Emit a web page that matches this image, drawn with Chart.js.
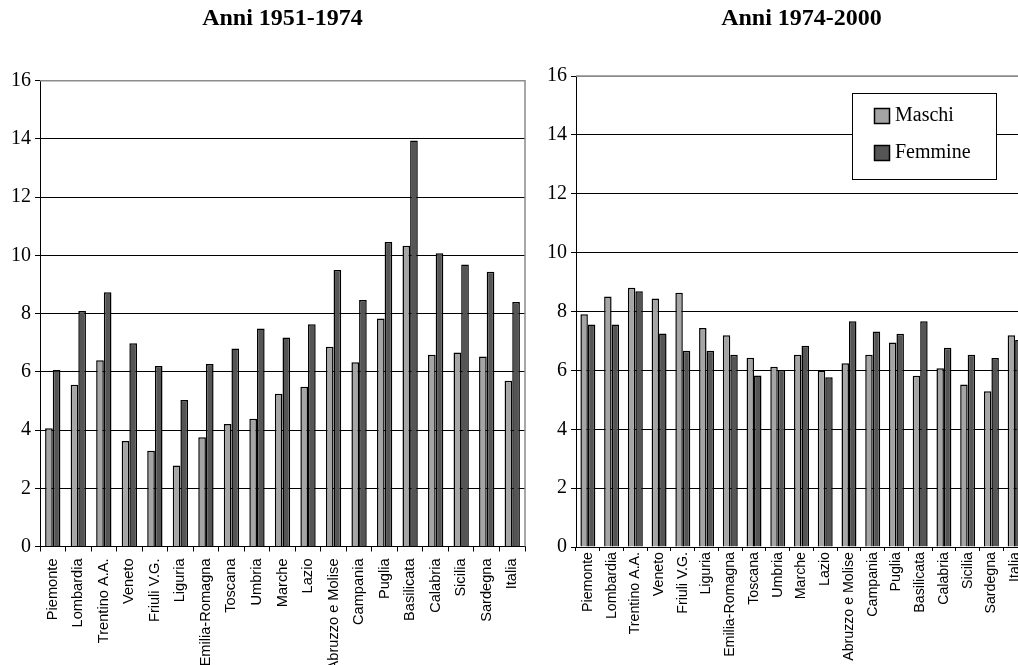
<!DOCTYPE html>
<html>
<head>
<meta charset="utf-8">
<script src="https://cdn.jsdelivr.net/npm/chart.js@4"></script>
<style>
  html, body { margin: 0; padding: 0; background: #fff; overflow: hidden; width: 1018px; height: 665px; }
  .wrap { position: absolute; top: 0; height: 665px; }
  #wrapLeft { left: 0; width: 530px; }
  #wrapRight { left: 530px; width: 500px; }
</style>
</head>
<body>
<div class="wrap" id="wrapLeft"><canvas id="chartLeft" width="530" height="665"></canvas></div>
<div class="wrap" id="wrapRight"><canvas id="chartRight" width="500" height="665"></canvas></div>
<script>
const regioni = ['Piemonte', 'Lombardia', 'Trentino A.A.', 'Veneto', 'Friuli V.G.', 'Liguria',
  'Emilia-Romagna', 'Toscana', 'Umbria', 'Marche', 'Lazio', 'Abruzzo e Molise', 'Campania',
  'Puglia', 'Basilicata', 'Calabria', 'Sicilia', 'Sardegna', 'Italia'];

// 1951-1974
const maschi5174  = [4.06, 5.56, 6.40, 3.62, 3.29, 2.78, 3.75, 4.21, 4.39, 5.25, 5.49, 6.86, 6.33, 7.83, 10.33, 6.59, 6.66, 6.53, 5.69];
const femmine5174 = [6.06, 8.09, 8.73, 6.98, 6.20, 5.03, 6.27, 6.80, 7.49, 7.18, 7.63, 9.50, 8.47, 10.46, 13.95, 10.07, 9.69, 9.44, 8.40];

// 1974-2000
const maschi7400  = [7.91, 8.51, 8.81, 8.44, 8.64, 7.44, 7.19, 6.43, 6.12, 6.53, 6.00, 6.24, 6.53, 6.95, 5.82, 6.07, 5.52, 5.29, 7.19];
const femmine7400 = [7.56, 7.56, 8.69, 7.25, 6.67, 6.67, 6.53, 5.83, 6.01, 6.84, 5.77, 7.67, 7.32, 7.24, 7.67, 6.77, 6.53, 6.42, 7.03];

const yMax = 16;
const yStep = 2;

const coloreMaschi = '#a5a5a5';
const coloreFemmine = '#555555';
const serif = "'Liberation Serif', 'Times New Roman', serif";
const sans = "'Liberation Sans', Arial, sans-serif";

// grey frame on the top and right side of the plot area
const frame = {
  id: 'frame',
  afterDatasetsDraw(chart) {
    const { ctx, chartArea: a } = chart;
    ctx.save();
    ctx.strokeStyle = '#8c8c8c';
    ctx.lineWidth = 1.5;
    ctx.beginPath();
    ctx.moveTo(a.left, a.top);
    ctx.lineTo(a.right, a.top);
    ctx.lineTo(a.right, a.bottom);
    ctx.stroke();
    ctx.restore();
  }
};

// boxed legend sitting inside the plot area
const boxLegend = {
  id: 'boxLegend',
  afterDraw(chart) {
    const { ctx, chartArea: a } = chart;
    const x = a.left + 276, y = a.top + 17, w = 144, h = 86;
    ctx.save();
    ctx.fillStyle = '#fff';
    ctx.fillRect(x, y, w, h);
    ctx.strokeStyle = '#000';
    ctx.lineWidth = 1;
    ctx.strokeRect(x + 0.5, y + 0.5, w, h);
    ctx.font = '20px ' + serif;
    ctx.textBaseline = 'middle';
    chart.data.datasets.forEach((ds, i) => {
      const sy = y + 15 + i * 37;
      ctx.fillStyle = ds.backgroundColor;
      ctx.fillRect(x + 22, sy, 15, 15);
      ctx.lineWidth = 1.5;
      ctx.strokeRect(x + 22.5, sy + 0.5, 15, 15);
      ctx.fillStyle = '#000';
      ctx.fillText(ds.label, x + 43, sy + 8);
    });
    ctx.restore();
  }
};

function makeChart(id, titolo, maschi, femmine, cfg) {
  return new Chart(document.getElementById(id), {
    type: 'bar',
    data: {
      labels: regioni,
      datasets: [
        { label: 'Maschi', data: maschi, backgroundColor: coloreMaschi, borderColor: '#000', borderWidth: 1.5 },
        { label: 'Femmine', data: femmine, backgroundColor: coloreFemmine, borderColor: '#000', borderWidth: 1.5 }
      ]
    },
    options: {
      responsive: false,
      animation: false,
      devicePixelRatio: 1,
      datasets: { bar: { categoryPercentage: cfg.catPct, barPercentage: 1 } },
      layout: { padding: { left: 0, right: cfg.padRight, top: 0, bottom: 0 } },
      plugins: {
        legend: { display: false },
        tooltip: { enabled: false },
        title: {
          display: true,
          text: titolo,
          fullSize: false,
          color: '#000',
          font: { family: serif, size: 24, weight: 'bold', lineHeight: 1.2 },
          padding: { top: 4, bottom: cfg.titleGap }
        }
      },
      scales: {
        x: {
          grid: { drawOnChartArea: false, color: '#000', tickLength: cfg.xTick },
          border: { color: '#000', width: 1 },
          ticks: {
            autoSkip: false, minRotation: 90, maxRotation: 90, padding: cfg.xPad,
            color: '#000', font: { family: sans, size: cfg.xFont }
          },
          afterFit: s => {
            s.height = cfg.xHeight;
            // keep the plot width fixed, labels may hang over the edge
            s.paddingLeft = 0;
            s.paddingRight = 0;
          }
        },
        y: {
          min: 0, max: yMax,
          grid: {
            color: c => (c.tick && c.tick.value === yMax) ? '#8c8c8c' : '#000',
            tickColor: '#000', tickLength: 5, lineWidth: 1
          },
          border: { color: '#000', width: 1 },
          ticks: { stepSize: yStep, padding: 4, color: '#000', font: { family: serif, size: 20 } },
          afterFit: s => { s.width = cfg.yWidth; }
        }
      }
    },
    plugins: cfg.legend ? [frame, boxLegend] : [frame]
  });
}

makeChart('chartLeft', 'Anni 1951-1974', maschi5174, femmine5174, {
  catPct: 0.6, padRight: 5, yWidth: 40, xHeight: 118.5, xTick: 5, xPad: 7, xFont: 14.6,
  titleGap: 47.9, legend: false
});

makeChart('chartRight', 'Anni 1974-2000', maschi7400, femmine7400, {
  catPct: 0.63, padRight: 3, yWidth: 46, xHeight: 118, xTick: 4, xPad: 1, xFont: 14.2,
  titleGap: 43.2, legend: true
});
</script>
</body>
</html>
